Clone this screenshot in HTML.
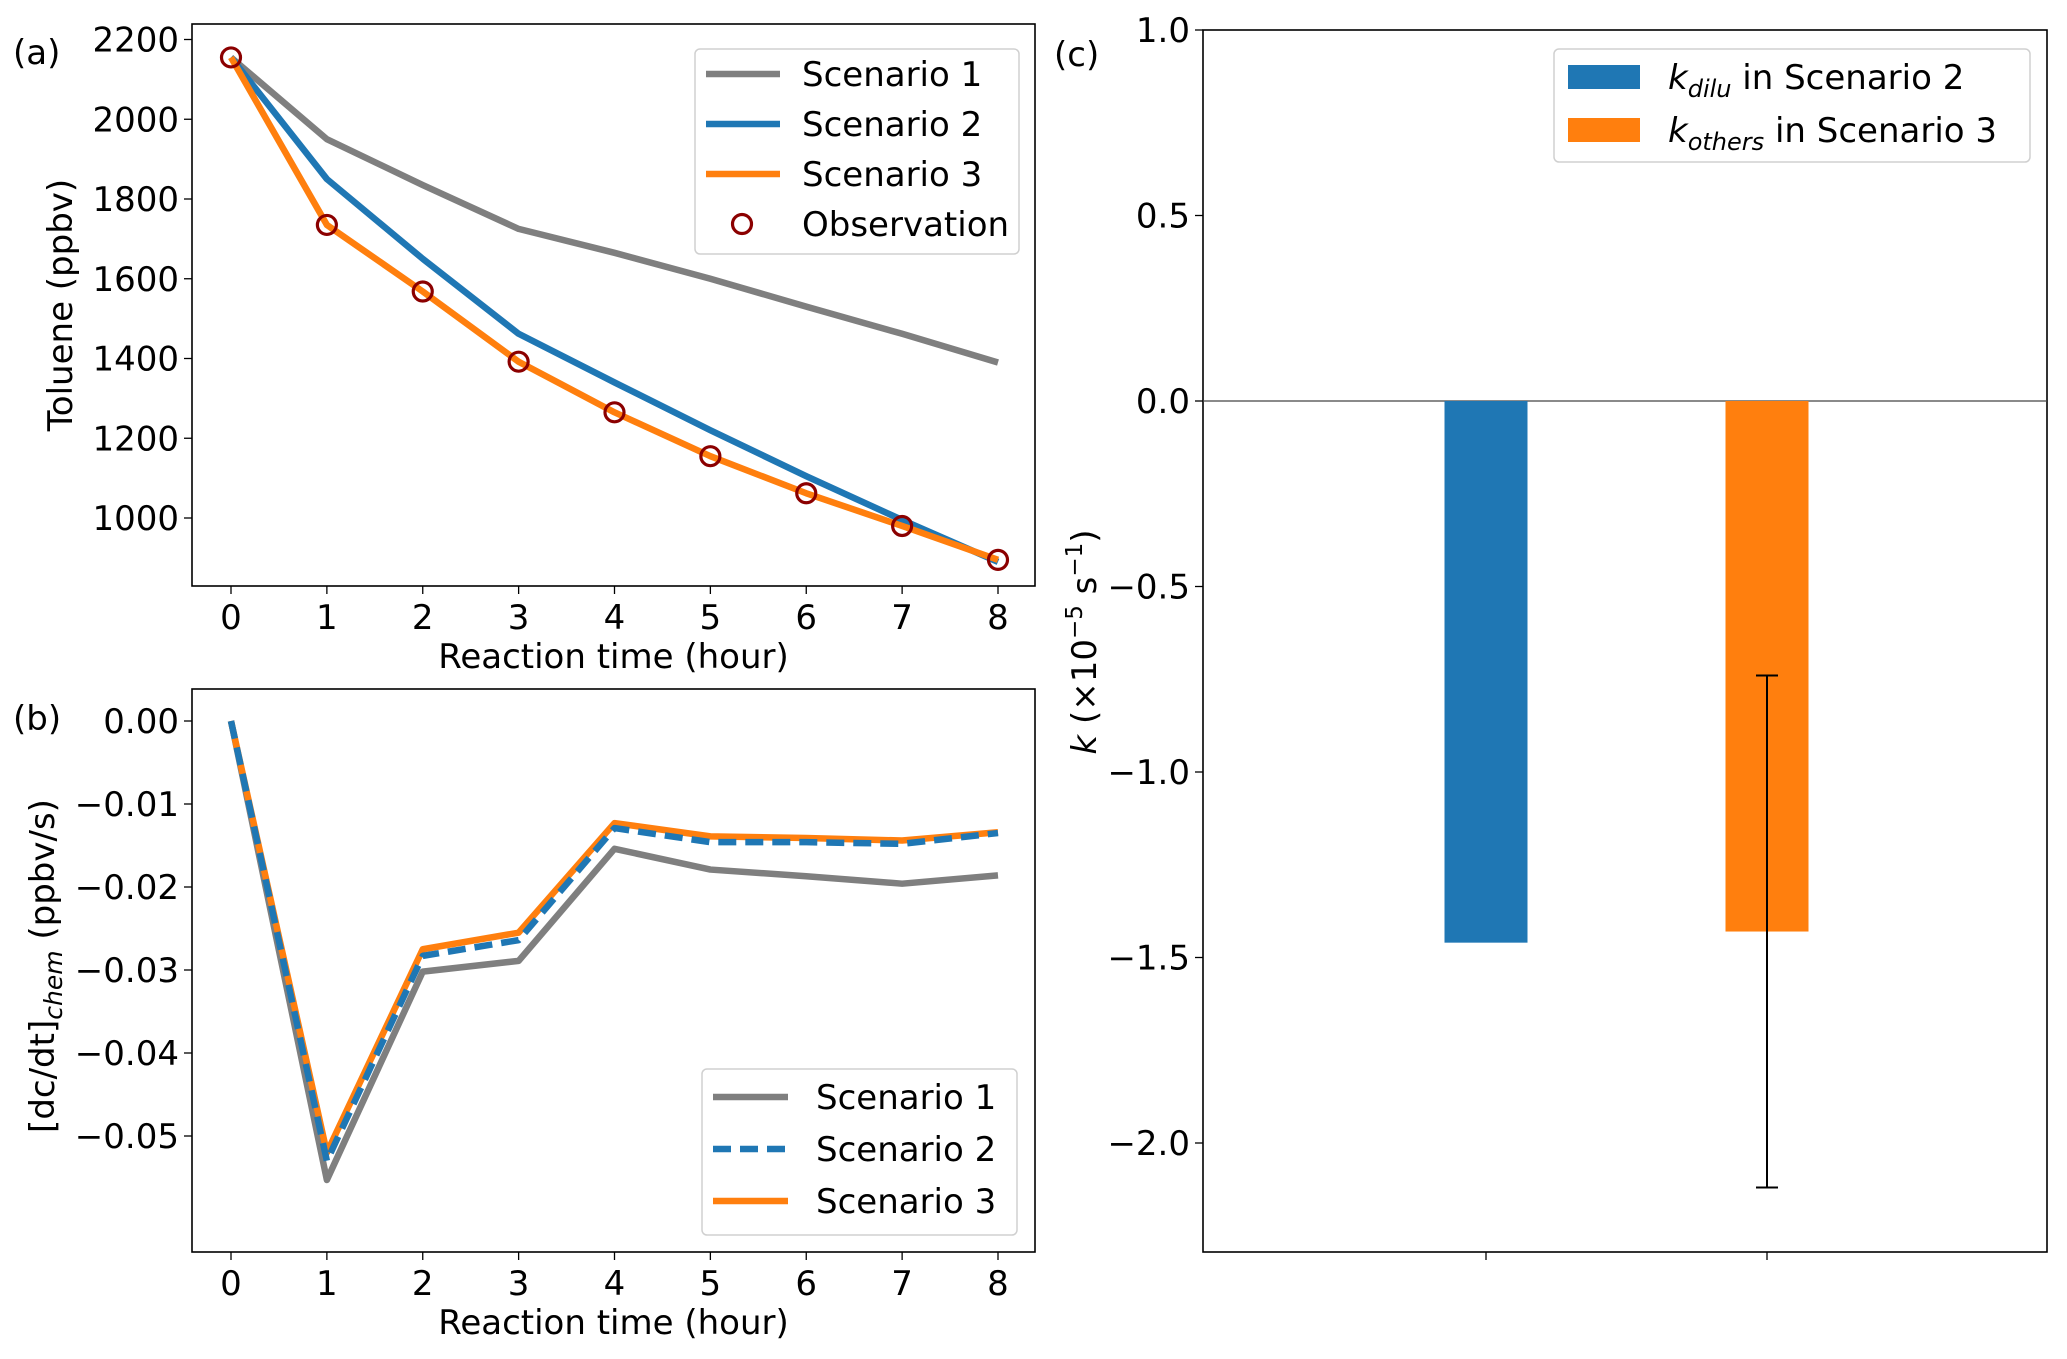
<!DOCTYPE html>
<html><head><meta charset="utf-8"><style>
html,body{margin:0;padding:0;background:#fff;}
svg{display:block;font-family:"DejaVu Sans","Liberation Sans",sans-serif;}
</style></head><body>
<svg id="fig" width="2067" height="1359" viewBox="0 0 2067 1359" xmlns="http://www.w3.org/2000/svg">
<g id="pa"></g>
<g id="pb"></g>
<g id="pc"></g>
</svg>
<script>
const hours = [0,1,2,3,4,5,6,7,8];
const tolS1 = [2155,1950,1835,1725,1665,1600,1530,1462,1390];
const tolS2 = [2155,1850,1650,1462,1340,1220,1105,995,890];
const tolS3 = [2155,1735,1568,1392,1265,1155,1062,980,895];
const tolObs = [2155,1735,1568,1392,1265,1155,1062,980,895];
const tolTicks = [1000,1200,1400,1600,1800,2000,2200];
const rateS1 = [0,-0.0553,-0.0302,-0.0289,-0.0154,-0.0179,-0.0187,-0.0196,-0.0186];
const rateS2 = [0,-0.0530,-0.0283,-0.0264,-0.0129,-0.0146,-0.0146,-0.0148,-0.0135];
const rateS3 = [0,-0.0520,-0.0275,-0.0255,-0.0123,-0.0139,-0.0141,-0.0144,-0.0134];
const rateTicks = [0,-0.01,-0.02,-0.03,-0.04,-0.05];
const kCats = ["k_dilu Scenario 2","k_others Scenario 3"];
const kValues = [-1.46,-1.43];
const kErrLow = [null,-2.12];
const kErrHigh = [null,-0.74];
const kTicks = [1.0,0.5,0.0,-0.5,-1.0,-1.5,-2.0];

const NS="http://www.w3.org/2000/svg";
function mk(parent,tag,attrs,text){const e=document.createElementNS(NS,tag);for(const k in attrs)e.setAttribute(k,attrs[k]);if(text!==undefined)e.textContent=text;parent.appendChild(e);return e;}
const GRAY="#7f7f7f",BLUE="#1f77b4",ORANGE="#ff7f0e",RED="#8b0000";
const minus=v=>String(v).replace('-','\u2212');
const FS=34;

const xL=192,xR=1035;
const xs=h=>231+(998-231)*h/8;

function lineAxes(g,top,bottom,ys,ticks,fmt){
  mk(g,'rect',{x:xL,y:top,width:xR-xL,height:bottom-top,fill:'none',stroke:'#000','stroke-width':1.6});
  hours.forEach(h=>{
    const t=mk(g,'line',{x1:xs(h),x2:xs(h),y1:bottom,y2:bottom+8,stroke:'#000','stroke-width':1.3});
    
    const l=mk(g,'text',{x:xs(h),y:bottom+43,'font-size':FS,'text-anchor':'middle'},String(h));
    
  });
  ticks.forEach(v=>{
    const t=mk(g,'line',{x1:xL-8,x2:xL,y1:ys(v),y2:ys(v),stroke:'#000','stroke-width':1.3});
    
    const l=mk(g,'text',{x:xL-13,y:ys(v)+12,'font-size':FS,'text-anchor':'end'},fmt(v));
    
  });
  const xl=mk(g,'text',{x:(xL+xR)/2,y:bottom+82,'font-size':FS,'text-anchor':'middle'},'Reaction time (hour)');
  
}
function poly(g,vals,xsF,ysF,color,w,dash,name){
  const p=mk(g,'polyline',{points:vals.map((v,i)=>xsF(hours[i])+','+ysF(v)).join(' '),fill:'none',stroke:color,'stroke-width':w,'stroke-linejoin':'round'});
  if(dash)p.setAttribute('stroke-dasharray',dash);
  
}

{
const g=document.getElementById('pa');
const top=24,bottom=586;
const ys=v=>39.5+(2200-v)*(518-39.5)/1200;
lineAxes(g,top,bottom,ys,tolTicks,v=>String(v));
poly(g,tolS1,xs,ys,GRAY,6.5,null,'line-scenario-1');
poly(g,tolS2,xs,ys,BLUE,6.5,null,'line-scenario-2');
poly(g,tolS3,xs,ys,ORANGE,6.5,null,'line-scenario-3');
tolObs.forEach((v,i)=>{const c=mk(g,'circle',{cx:xs(hours[i]),cy:ys(v),r:9.5,fill:'none',stroke:RED,'stroke-width':3.2});
});
const yl=mk(g,'text',{x:0,y:0,'font-size':FS,'text-anchor':'middle',transform:'translate(72,305) rotate(-90)'},'Toluene (ppbv)');

const pl=mk(g,'text',{x:13,y:64,'font-size':FS},'(a)');
const lg=mk(g,'g',{});
mk(lg,'rect',{x:695,y:49,width:324,height:205,rx:5,fill:'#fff',stroke:'#d0d0d0','stroke-width':1.5});
[[GRAY,'Scenario 1'],[BLUE,'Scenario 2'],[ORANGE,'Scenario 3']].forEach((e,i)=>{const y=74+i*50;
const ln=mk(lg,'line',{x1:706,x2:780,y1:y,y2:y,stroke:e[0],'stroke-width':6.5});
mk(lg,'text',{x:802,y:y+12,'font-size':FS},e[1]);});
mk(lg,'circle',{cx:742,cy:224,r:9.5,fill:'none',stroke:RED,'stroke-width':3.2});
mk(lg,'text',{x:802,y:236,'font-size':FS},'Observation');
}

{
const g=document.getElementById('pb');
const top=689,bottom=1252;
const ys=v=>721+(0-v)*(1136-721)/0.05;
lineAxes(g,top,bottom,ys,rateTicks,v=>minus(v.toFixed(2)));
poly(g,rateS1,xs,ys,GRAY,6.5,null,'line-scenario-1');
poly(g,rateS3,xs,ys,ORANGE,6.5,null,'line-scenario-3');
poly(g,rateS2,xs,ys,BLUE,6.5,'18,9','line-scenario-2');
const yl=mk(g,'text',{x:0,y:0,'font-size':FS,'text-anchor':'middle',transform:'translate(54,966) rotate(-90)'});

mk(yl,'tspan',{},'[dc/dt]');mk(yl,'tspan',{'font-size':25,'font-style':'italic',dy:8},'chem');mk(yl,'tspan',{dy:-8},' (ppbv/s)');
const pl=mk(g,'text',{x:13,y:730,'font-size':FS},'(b)');
const lg=mk(g,'g',{});
mk(lg,'rect',{x:702,y:1069,width:315,height:166,rx:5,fill:'#fff',stroke:'#d0d0d0','stroke-width':1.5});
[[GRAY,'Scenario 1',null],[BLUE,'Scenario 2','18,9'],[ORANGE,'Scenario 3',null]].forEach((e,i)=>{const y=1097+i*52;
const ln=mk(lg,'line',{x1:713,x2:788,y1:y,y2:y,stroke:e[0],'stroke-width':6.5});if(e[2])ln.setAttribute('stroke-dasharray',e[2]);

mk(lg,'text',{x:816,y:y+12,'font-size':FS},e[1]);});
}

{
const g=document.getElementById('pc');
const L=1203,R=2047,T=30,B=1252;
const ys=v=>30+(1.0-v)*(1143-30)/3.0;
const centers=[1486,1767];const bw=83;
mk(g,'rect',{x:L,y:T,width:R-L,height:B-T,fill:'none',stroke:'#000','stroke-width':1.6});
kTicks.forEach(v=>{
  const t=mk(g,'line',{x1:L-8,x2:L,y1:ys(v),y2:ys(v),stroke:'#000','stroke-width':1.3});
  const l=mk(g,'text',{x:L-13,y:ys(v)+12,'font-size':FS,'text-anchor':'end'},minus(v.toFixed(1)));
});
const z=mk(g,'line',{x1:L,x2:R,y1:ys(0),y2:ys(0),stroke:'#444','stroke-width':1.3});
const cols=[BLUE,ORANGE];
kValues.forEach((v,i)=>{
  const b=mk(g,'rect',{x:centers[i]-bw/2,y:ys(0),width:bw,height:ys(v)-ys(0),fill:cols[i]});
  
  const t=mk(g,'line',{x1:centers[i],x2:centers[i],y1:B,y2:B+8,stroke:'#000','stroke-width':1.3});
  if(kErrLow[i]!==null){
    const eg=mk(g,'g',{stroke:'#000','stroke-width':2});
    mk(eg,'line',{x1:centers[i],x2:centers[i],y1:ys(kErrHigh[i]),y2:ys(kErrLow[i])});
    mk(eg,'line',{x1:centers[i]-11,x2:centers[i]+11,y1:ys(kErrHigh[i]),y2:ys(kErrHigh[i])});
    mk(eg,'line',{x1:centers[i]-11,x2:centers[i]+11,y1:ys(kErrLow[i]),y2:ys(kErrLow[i])});
  }
});
const yl=mk(g,'text',{x:0,y:0,'font-size':FS,'text-anchor':'middle',transform:'translate(1096,642) rotate(-90)'});

mk(yl,'tspan',{'font-style':'italic'},'k');mk(yl,'tspan',{},' (\u00d710');mk(yl,'tspan',{'font-size':23,dy:-14},'\u22125');mk(yl,'tspan',{dy:14},' s');mk(yl,'tspan',{'font-size':23,dy:-14},'\u22121');mk(yl,'tspan',{dy:14},')');
const pl=mk(g,'text',{x:1054,y:66,'font-size':FS},'(c)');
const lg=mk(g,'g',{});
mk(lg,'rect',{x:1554,y:49,width:476,height:113,rx:5,fill:'#fff',stroke:'#d0d0d0','stroke-width':1.5});
[[BLUE,'dilu',' in Scenario 2'],[ORANGE,'others',' in Scenario 3']].forEach((e,i)=>{const y=77+i*53;
const r=mk(lg,'rect',{x:1568,y:y-12,width:72,height:24,fill:e[0]});
const t=mk(lg,'text',{x:1668,y:y+12,'font-size':FS});
mk(t,'tspan',{'font-style':'italic'},'k');mk(t,'tspan',{'font-style':'italic','font-size':24,dy:8},e[1]);mk(t,'tspan',{dy:-8},e[2]);});
}
</script>
</body></html>
